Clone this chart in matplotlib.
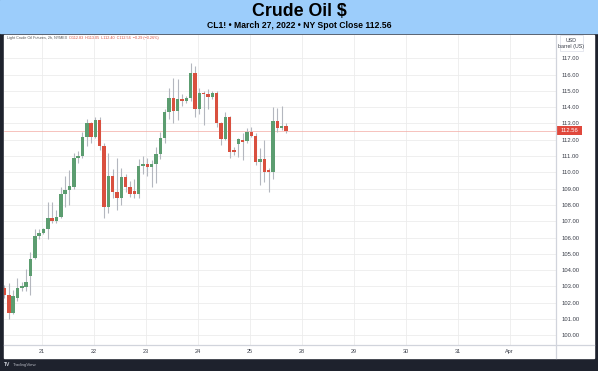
"""Crude oil 2h candlestick chart, TradingView style."""

import matplotlib

matplotlib.use("Agg")
import matplotlib.pyplot as plt
import numpy as np
from matplotlib.lines import Line2D
from matplotlib.patches import Rectangle

# 2h candles, CL1!, Mon 21 - Fri 25 March 2022
opens = [102.9, 102.5, 101.4, 102.3, 102.9, 102.95, 103.65, 104.75, 106.1, 106.3,
         106.5, 107.2, 107.0, 107.25, 108.7, 108.9, 109.1, 110.9, 111.0, 112.2,
         113.0, 112.2, 113.2, 111.6, 107.9, 109.8, 108.8, 108.4, 109.7, 109.1,
         108.85, 108.7, 110.4, 110.5, 110.35, 110.5, 111.1, 112.1, 113.7, 114.55,
         113.75, 114.5, 114.4, 114.55, 116.1, 113.9, 114.9, 114.8, 114.65, 114.9,
         113.0, 112.05, 113.4, 111.35, 111.74, 111.98, 111.93, 112.48, 112.23, 110.64,
         110.82, 110.14, 110.02, 113.15, 112.72, 112.83]
highs = [103.1, 103.2, 102.8, 103.5, 103.3, 104.1, 105.1, 106.5, 106.5, 106.6,
         108.2, 108.2, 107.7, 109.1, 109.8, 110.15, 111.2, 111.3, 112.5, 113.3,
         113.1, 113.4, 113.4, 111.8, 111.2, 110.2, 110.9, 110.3, 109.9, 109.5,
         109.6, 110.8, 111.0, 110.9, 110.75, 111.55, 112.5, 113.9, 115.2, 115.8,
         115.7, 114.8, 114.7, 116.7, 116.5, 115.2, 115.0, 115.1, 115.0, 115.0,
         113.1, 113.7, 113.45, 111.55, 112.1, 112.4, 112.7, 112.8, 112.4, 111.5,
         112.0, 110.3, 114.0, 113.95, 114.1, 113.05]
lows = [102.3, 101.0, 101.3, 102.1, 102.75, 102.7, 102.5, 104.7, 105.9, 106.2,
        105.9, 106.9, 106.9, 107.2, 107.9, 108.0, 109.0, 110.6, 110.9, 111.6,
        111.8, 112.1, 111.4, 107.2, 107.5, 108.4, 107.7, 108.0, 108.8, 108.5,
        108.4, 108.4, 109.9, 109.8, 109.1, 109.35, 110.8, 111.8, 113.3, 113.0,
        113.2, 114.1, 114.25, 114.4, 113.4, 113.6, 112.9, 113.9, 114.5, 112.8,
        111.7, 112.0, 110.9, 111.07, 110.95, 110.75, 111.8, 112.2, 110.45, 109.2,
        109.4, 108.8, 109.6, 112.5, 112.6, 112.40]
closes = [102.5, 101.4, 102.4, 102.9, 103.0, 103.3, 104.7, 106.1, 106.3, 106.5,
          107.2, 107.0, 107.25, 108.7, 108.9, 109.15, 110.9, 111.0, 112.2, 113.0,
          112.2, 113.2, 111.6, 107.9, 109.8, 108.8, 108.4, 109.7, 109.1, 108.7,
          108.7, 110.4, 110.5, 110.35, 110.5, 111.1, 112.1, 113.7, 114.55, 113.75,
          114.5, 114.4, 114.55, 116.1, 113.9, 114.9, 114.8, 114.65, 114.9, 113.0,
          112.05, 113.4, 111.25, 111.25, 112.05, 111.86, 112.48, 112.23, 110.64, 110.82,
          110.02, 110.02, 113.15, 112.72, 112.83, 112.56]

day_labels = ["21", "22", "23", "24", "25", "28", "29", "30", "31", "Apr"]
price_ticks = list(range(100, 118))
last_close = 112.56

W, H = 598, 371
DARK = "#1e222d"
BAND = "#9ccdfb"
UP = "#5c9d70"
DOWN = "#d9503f"
WICK = "#b4b7bf"
GRID = "#ececec"
SEP = "#d1d4dc"
TXT = "#3a3e49"


def fx(px):
    return px / W


def fy(py):
    return 1 - py / H


plt.rcParams["font.family"] = ["Liberation Sans", "DejaVu Sans"]
fig = plt.figure(figsize=(W / 100, H / 100), dpi=100)
fig.patch.set_facecolor(DARK)

# title band and white chart panel (behind the axes)
fig.patches.append(Rectangle((0, fy(33)), 1, 33 / H, transform=fig.transFigure,
                             color=BAND, zorder=-2))
fig.patches.append(Rectangle((fx(4), fy(358)), fx(594) - fx(4), (358 - 35) / H,
                             transform=fig.transFigure, color="white", zorder=-2))

fig.text(0.5, fy(16), "Crude Oil $", ha="center", va="baseline",
         fontsize=12.8, fontweight="bold", color="black")
fig.text(0.5, fy(28.5), "CL1! \u2022 March 27, 2022 \u2022 NY Spot Close 112.56",
         ha="center", va="baseline", fontsize=6.2, fontweight="bold", color="black")

ax = fig.add_axes([fx(4), fy(344.5), (555.5 - 4) / W, (344.5 - 35) / H])
ax.set_zorder(1)
ax.set_facecolor("white")

idx = np.arange(len(opens))
o = np.array(opens)
c = np.array(closes)
up = c >= o
colors = np.where(up, UP, DOWN)

ax.vlines(idx, lows, highs, color=WICK, lw=0.8, zorder=2)
body_low = np.minimum(o, c)
body_h = np.maximum(np.abs(c - o), 0.07)
ax.bar(idx, body_h, bottom=body_low, width=0.8, color=colors, lw=0, zorder=3)

ax.axhline(last_close, color="#f3aaa2", lw=0.5, zorder=1)

bars_per_day = 12
first_day = 8.66
day_pos = first_day + bars_per_day * np.arange(len(day_labels))
ax.set_xticks(day_pos)
ax.set_xticklabels(day_labels)
ax.set_yticks(price_ticks)
ax.set_yticklabels([f"{p:.2f}" for p in price_ticks])
ax.yaxis.tick_right()
ax.tick_params(axis="y", length=0, pad=4.6, labelsize=4.2, colors=TXT)
ax.tick_params(axis="x", length=0, pad=3.0, labelsize=4.0, colors=TXT)
for lab in ax.get_yticklabels():
    lab.set_horizontalalignment("left")

ax.grid(True, color=GRID, lw=0.6, zorder=0)
ax.set_axisbelow(True)
for s in ax.spines.values():
    s.set_visible(False)

ax.set_xlim(-0.115, 127.25)
ax.set_ylim(99.44, 118.43)

# separators of the price and time scales
fig.add_artist(Line2D([fx(555.5), fx(555.5)], [fy(35), fy(358)], color=SEP, lw=0.9, zorder=2))
fig.add_artist(Line2D([fx(4), fx(594)], [fy(344.5), fy(344.5)], color=SEP, lw=0.9, zorder=2))

# last price tag
ax.add_patch(Rectangle((1.0027, last_close - 0.28), 0.0453, 0.56,
                       transform=ax.get_yaxis_transform(), clip_on=False,
                       color="#e0483c", lw=0, zorder=5))
ax.text(1.0255, last_close, f"{last_close:.2f}", transform=ax.get_yaxis_transform(),
        ha="center", va="center", fontsize=4.2, color="white", zorder=6)

# unit box
fig.patches.append(Rectangle((fx(560), fy(50.5)), fx(583) - fx(560), 15 / H,
                             transform=fig.transFigure, fc="white", ec="#e0e3eb",
                             lw=0.6, zorder=3))
fig.text(fx(571.5), fy(40), "USD", ha="center", va="center", fontsize=3.8,
         color=TXT, zorder=4)
fig.text(fx(571.5), fy(46.3), "barrel (US)", ha="center", va="center", fontsize=3.8,
         color=TXT, zorder=4)

# legend line
name = fig.text(fx(7), fy(38.5), "Light Crude Oil Futures, 2h, NYMEX", ha="left",
                va="center", fontsize=2.7, color="#555555", zorder=4)
fig.add_artist(matplotlib.text.Annotation(
    "O112.83  H113.05  L112.40  C112.56  \u22120.29 (\u22120.26%)",
    xy=(1, 0.5), xycoords=name, xytext=(1.5, 0), textcoords="offset points",
    ha="left", va="center", fontsize=2.7, color=DOWN, zorder=4))

# footer logo
fig.text(fx(4), fy(365), "TV", ha="left", va="center", fontsize=3.6,
         fontweight="bold", color="#d1d4dc")
fig.text(fx(12.5), fy(365), "TradingView", ha="left", va="center", fontsize=3.2,
         color="#b2b5be")

fig.savefig("out.png", dpi=100, facecolor=fig.get_facecolor())
